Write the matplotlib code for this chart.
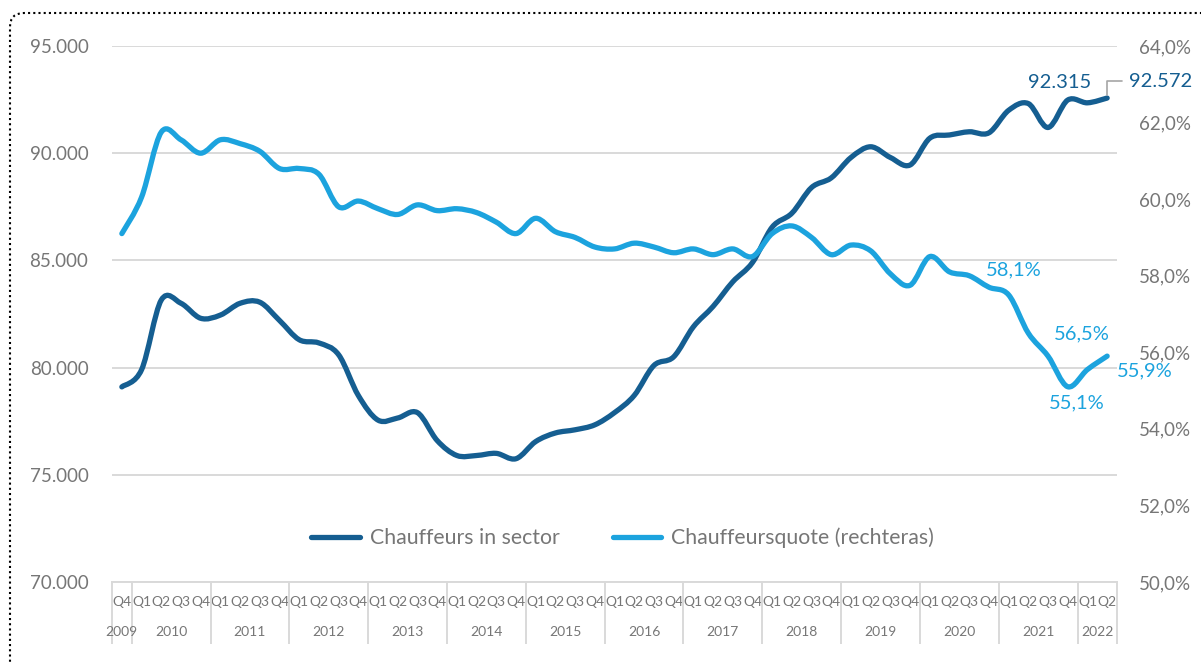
import numpy as np
import matplotlib
matplotlib.use("Agg")
import matplotlib.pyplot as plt
from matplotlib.path import Path
from matplotlib.patches import PathPatch, FancyBboxPatch
from matplotlib.lines import Line2D
from matplotlib.ticker import FuncFormatter
import matplotlib.transforms as mtransforms

plt.rcParams["font.family"] = ["Lato", "DejaVu Sans"]

# data (2009 Q4 .. 2022 Q2)
quarters = ["Q4"] + ["Q1", "Q2", "Q3", "Q4"] * 12 + ["Q1", "Q2"]
years = ["2009", "2010", "2011", "2012", "2013", "2014", "2015",
         "2016", "2017", "2018", "2019", "2020", "2021", "2022"]
year_quarters = [1, 4, 4, 4, 4, 4, 4, 4, 4, 4, 4, 4, 4, 2]

drivers = [79100, 79900, 83150, 83000, 82300, 82450, 83000, 83050, 82200, 81300,
           81150, 80600, 78700, 77550, 77650, 77900, 76600, 75900, 75900, 76000,
           75750, 76550, 76950, 77100, 77330, 77900, 78700, 80100, 80500, 81900,
           82850, 84000, 84900, 86550, 87200, 88400, 88850, 89800, 90300, 89800,
           89450, 90700, 90850, 91000, 90950, 92000, 92315, 91200, 92480, 92350,
           92572]
quote = [59.1, 60.05, 61.75, 61.55, 61.2, 61.55, 61.45, 61.25, 60.8, 60.8,
         60.65, 59.8, 59.95, 59.75, 59.6, 59.85, 59.7, 59.75, 59.65, 59.4,
         59.1, 59.5, 59.15, 59.0, 58.75, 58.7, 58.85, 58.75, 58.6, 58.7,
         58.55, 58.7, 58.5, 59.1, 59.3, 59.0, 58.55, 58.8, 58.65, 58.05,
         57.75, 58.5, 58.1, 58.0, 57.7, 57.5, 56.5, 55.9, 55.1, 55.55,
         55.9]

DARK = "#155E91"
LIGHT = "#1CA3DE"
GREY = "#767676"
GRID = "#D9D9D9"
FS = 14.5
TICK_FS = 13.5


def smooth_path(x, y):
    """Bezier path through the points, like Excel's smoothed line."""
    pts = np.column_stack([x, y]).astype(float)
    n = len(pts)
    verts = [pts[0]]
    codes = [Path.MOVETO]
    for i in range(n - 1):
        p0 = pts[max(i - 1, 0)]
        p1 = pts[i]
        p2 = pts[i + 1]
        p3 = pts[min(i + 2, n - 1)]
        c1 = p1 + (p2 - p0) / 6.0
        c2 = p2 - (p3 - p1) / 6.0
        verts += [c1, c2, p2]
        codes += [Path.CURVE4] * 3
    return Path(verts, codes)


fig = plt.figure(figsize=(12.01, 6.62), dpi=100)
ax = fig.add_axes([112 / 1201, 1 - 582 / 662, 1005 / 1201, 536 / 662])
ax2 = ax.twinx()

x = np.arange(len(quarters))

ax.add_patch(PathPatch(smooth_path(x, drivers), fill=False, edgecolor=DARK,
                       lw=3.8, capstyle="round", joinstyle="round", zorder=3))
ax2.add_patch(PathPatch(smooth_path(x, quote), fill=False, edgecolor=LIGHT,
                        lw=3.8, capstyle="round", joinstyle="round", zorder=3))

ax.set_xlim(-0.5, len(quarters) - 0.5)
ax.set_ylim(70000, 95000)
ax.set_yticks(np.arange(70000, 95001, 5000))
ax.yaxis.set_major_formatter(FuncFormatter(lambda v, p: f"{v:,.0f}".replace(",", ".")))
ax2.set_ylim(50, 64)
ax2.set_yticks(np.arange(50, 64.1, 2))
ax2.yaxis.set_major_formatter(FuncFormatter(lambda v, p: f"{v:.1f}%".replace(".", ",")))

ax.grid(axis="y", color=GRID, lw=1.4)
ax.set_axisbelow(True)
for a in (ax, ax2):
    for s in a.spines.values():
        s.set_visible(False)
    a.tick_params(length=0, colors=GREY, labelsize=TICK_FS)
ax.spines["bottom"].set_visible(True)
ax.spines["bottom"].set_color(GRID)
ax.spines["bottom"].set_linewidth(1.4)
ax.tick_params(axis="y", pad=17)
ax2.tick_params(axis="y", pad=16)

ax.set_xticks(x)
ax.set_xticklabels(quarters, fontsize=10)
ax.tick_params(axis="x", pad=10, colors=GREY)

# year labels and separators under the axis
trans = mtransforms.blended_transform_factory(ax.transData, ax.transAxes)
start = -0.5
bounds = [start]
for yr, nq in zip(years, year_quarters):
    ax.text(start + nq / 2, -0.093, yr, transform=trans, ha="center", va="center",
            fontsize=10, color=GREY)
    start += nq
    bounds.append(start)
for b in bounds:
    ax.plot([b, b], [0, -0.114], transform=trans, color=GRID, lw=1.4, clip_on=False)

# data labels
ax.annotate("92.315", xy=(46, drivers[46]), xytext=(31, 21), textcoords="offset pixels",
            ha="center", va="center", fontsize=FS, color=DARK)
ax.annotate("92.572", xy=(50, drivers[50]), xytext=(22, 17), textcoords="offset pixels",
            ha="left", va="center", fontsize=FS, color=DARK,
            arrowprops=dict(arrowstyle="-", color="#A6A6A6", lw=1.2,
                            connectionstyle="angle,angleA=180,angleB=90,rad=0",
                            shrinkA=3, shrinkB=2))
ax2.annotate("58,1%", xy=(42, quote[42]), xytext=(64, 2), textcoords="offset pixels",
             ha="center", va="center", fontsize=FS, color=LIGHT)
ax2.annotate("56,5%", xy=(46, quote[46]), xytext=(54, -1), textcoords="offset pixels",
             ha="center", va="center", fontsize=FS, color=LIGHT)
ax2.annotate("55,1%", xy=(48, quote[48]), xytext=(9, -16), textcoords="offset pixels",
             ha="center", va="center", fontsize=FS, color=LIGHT)
ax2.annotate("55,9%", xy=(50, quote[50]), xytext=(38, -15), textcoords="offset pixels",
             ha="center", va="center", fontsize=FS, color=LIGHT)

handles = [Line2D([], [], color=DARK, lw=3.8, solid_capstyle="round"),
           Line2D([], [], color=LIGHT, lw=3.8, solid_capstyle="round")]
leg = ax2.legend(handles, ["Chauffeurs in sector", "Chauffeursquote (rechteras)"],
                 loc="center", bbox_to_anchor=(0.508, 0.082), ncol=2, frameon=False,
                 fontsize=15.3, handlelength=2.3, handletextpad=0.45, columnspacing=2.5)
for t in leg.get_texts():
    t.set_color(GREY)

# dotted frame around the chart
fig.patches.append(FancyBboxPatch((10, -30), 1240, 679, transform=None,
                                  boxstyle="round,pad=0,rounding_size=14",
                                  fill=False, edgecolor="black", lw=1.5,
                                  linestyle=(0, (1, 1.5))))

fig.savefig("out.png", dpi=100)
